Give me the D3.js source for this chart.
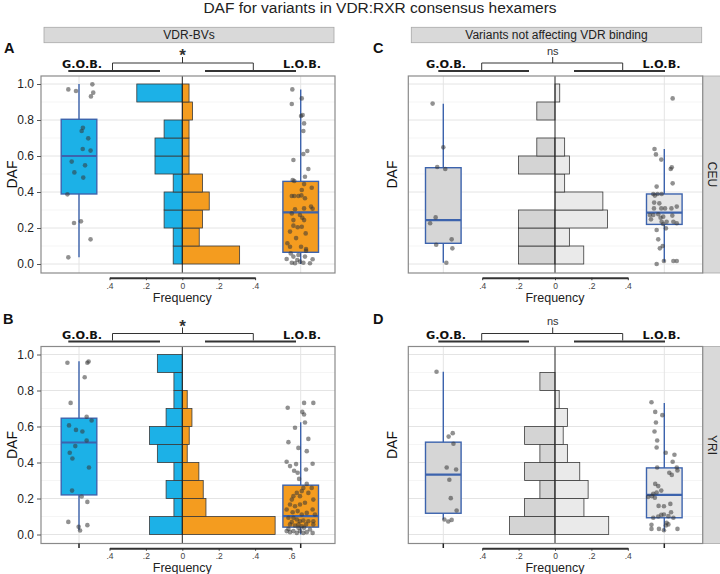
<!DOCTYPE html>
<html><head><meta charset="utf-8">
<script src="https://cdn.jsdelivr.net/npm/d3@7"></script>
<style>body{margin:0;background:#fff}</style>
</head><body><svg id="c" width="720" height="574"></svg>
<script>
// ---------------- DATA ----------------
const title = "DAF for variants in VDR:RXR consensus hexamers";
const stripTop = ["VDR-BVs", "Variants not affecting VDR binding"];
const stripRight = ["CEU", "YRI"];
const panelLetters = ["A", "B", "C", "D"];
const groups = ["G.O.B.", "L.O.B."];
const sigLabels = ["*", "*", "ns", "ns"];
const yTicks = [0.0, 0.2, 0.4, 0.6, 0.8, 1.0];
const yMinor = [0.1, 0.3, 0.5, 0.7, 0.9];
const freqTicksShort = [-0.4, -0.2, 0, 0.2, 0.4];
const freqTicksLong = [-0.4, -0.2, 0, 0.2, 0.4, 0.6];
const binLower = [0.0, 0.1, 0.2, 0.3, 0.4, 0.5, 0.6, 0.7, 0.8, 0.9];
const binWidth = 0.1;

// histogram relative frequencies, bins from 0.0-0.1 upward
const histA_GOB = [0.05, 0.05, 0.10, 0.10, 0.05, 0.15, 0.15, 0.10, 0.00, 0.25];
const histA_LOB = [0.315, 0.093, 0.111, 0.148, 0.111, 0.037, 0.037, 0.037, 0.056, 0.037];
const histB_GOB = [0.18, 0.046, 0.089, 0.046, 0.137, 0.18, 0.089, 0.046, 0.046, 0.137];
const histB_LOB = [0.51, 0.13, 0.115, 0.091, 0.027, 0.038, 0.053, 0.027, 0.0, 0.0];
const histC_GOB = [0.2, 0.2, 0.2, 0.0, 0.0, 0.2, 0.1, 0.0, 0.1, 0.0];
const histC_LOB = [0.158, 0.079, 0.289, 0.263, 0.053, 0.079, 0.053, 0.0, 0.0, 0.026];
const histD_GOB = [0.25, 0.167, 0.083, 0.167, 0.083, 0.167, 0.0, 0.0, 0.083, 0.0];
const histD_LOB = [0.295, 0.159, 0.182, 0.136, 0.068, 0.045, 0.068, 0.023, 0.0, 0.0];

// boxplot stats [lower whisker, Q1, median, Q3, upper whisker]
const boxA_GOB = [0.037, 0.389, 0.60, 0.804, 1.0];
const boxA_LOB = [0.0, 0.065, 0.287, 0.459, 0.97];
const boxB_GOB = [0.024, 0.22, 0.511, 0.646, 0.963];
const boxB_LOB = [0.0, 0.041, 0.102, 0.274, 0.624];
const boxC_GOB = [0.007, 0.115, 0.244, 0.535, 0.89];
const boxC_LOB = [0.013, 0.22, 0.285, 0.389, 0.639];
const boxD_GOB = [0.083, 0.118, 0.333, 0.513, 0.904];
const boxD_LOB = [0.018, 0.093, 0.22, 0.37, 0.73];

// jittered points [DAF, jitter as fraction of half box width]
const ptsA_GOB = [[0.97,-0.60],[0.961,-0.17],[0.998,0.75],[0.952,0.80],[0.931,0.67],[0.757,0.22],[0.739,0.15],[0.698,0.52],[0.639,0.21],[0.63,0.65],[0.569,-0.41],[0.548,0.34],[0.509,-0.26],[0.48,0.24],[0.387,-0.65],[0.228,-0.28],[0.237,0.11],[0.137,0.65],[0.037,-0.60]];
const ptsA_LOB = [[0.97,-0.47],[0.889,-0.50],[0.92,0.06],[0.828,0.11],[0.822,0.02],[0.781,0.19],[0.739,0.15],[0.628,0.37],[0.611,0.15],[0.578,-0.41],[0.528,0.43],[0.485,0.24],[0.467,-0.45],[0.461,-0.36],[0.444,0.19],[0.424,0.62],[0.411,0.06],[0.378,-0.50],[0.378,-0.36],[0.378,-0.13],[0.381,0.04],[0.365,0.24],[0.319,0.58],[0.307,0.67],[0.309,0.19],[0.304,-0.32],[0.281,-0.50],[0.272,-0.04],[0.257,0.09],[0.244,-0.41],[0.244,0.19],[0.207,0.06],[0.204,-0.17],[0.213,-0.41],[0.18,-0.60],[0.17,0.28],[0.144,-0.26],[0.115,-0.75],[0.096,-0.60],[0.096,0.02],[0.083,0.30],[0.059,-0.56],[0.074,0.30],[0.041,0.24],[0.026,0.67],[0.028,-0.79],[0.007,-0.50],[0.004,-0.32],[0.022,-0.19],[0.013,-0.04],[0.007,0.15],[0.004,0.52],[0.041,-0.41],[0.05,-0.13]];
const ptsB_GOB = [[0.954,-0.65],[0.954,0.47],[0.961,0.54],[0.874,0.32],[0.731,-0.47],[0.606,-0.56],[0.581,-0.17],[0.572,0.19],[0.654,0.43],[0.633,0.71],[0.491,-0.21],[0.454,-0.52],[0.422,-0.37],[0.522,0.43],[0.372,0.56],[0.244,-0.39],[0.211,0.15],[0.181,0.47],[0.07,-0.60],[0.043,-0.02],[0.022,0.06],[0.052,0.47]];
const ptsB_LOB = [[0.704,-0.73],[0.731,0.19],[0.731,0.71],[0.681,0.09],[0.667,0.19],[0.593,-0.32],[0.622,0.24],[0.531,0.43],[0.513,-0.69],[0.481,-0.13],[0.463,0.34],[0.404,-0.79],[0.38,-0.60],[0.391,-0.26],[0.354,-0.37],[0.343,-0.17],[0.393,0.67],[0.361,0.30],[0.309,-0.09],[0.281,0.34],[0.259,0.15],[0.241,0.06],[0.231,-0.22],[0.213,-0.41],[0.194,-0.50],[0.213,-0.04],[0.231,0.43],[0.259,0.62],[0.167,-0.60],[0.157,-0.32],[0.167,-0.04],[0.176,0.24],[0.194,0.71],[0.139,-0.79],[0.124,-0.45],[0.13,-0.17],[0.111,0.06],[0.12,0.34],[0.139,0.67],[0.111,0.80],[0.093,-0.69],[0.093,-0.41],[0.083,-0.22],[0.074,-0.04],[0.078,0.15],[0.074,0.43],[0.074,0.71],[0.056,-0.60],[0.05,-0.32],[0.056,-0.13],[0.046,0.06],[0.037,0.19],[0.056,0.30],[0.019,-0.79],[0.013,-0.60],[0.019,-0.41],[0.009,-0.22],[0.019,-0.04],[0.009,0.15],[0.013,0.34],[0.009,0.67],[0.031,-0.69],[0.037,-0.13],[0.069,-0.50],[0.028,0.52],[0.056,0.71]];
const ptsC_GOB = [[0.891,-0.60],[0.648,0.0],[0.539,-0.34],[0.528,0.11],[0.259,-0.43],[0.226,-0.74],[0.137,0.47],[0.107,-0.40],[0.087,0.51],[0.007,0.17]];
const ptsC_LOB = [[0.92,0.47],[0.639,-0.55],[0.609,-0.47],[0.58,-0.17],[0.537,0.42],[0.528,0.36],[0.448,0.47],[0.43,-0.43],[0.389,-0.62],[0.38,-0.53],[0.389,-0.38],[0.389,-0.15],[0.341,-0.57],[0.337,-0.28],[0.309,-0.58],[0.309,-0.17],[0.309,0.04],[0.309,0.40],[0.319,0.70],[0.272,-0.81],[0.272,-0.62],[0.276,-0.34],[0.263,-0.06],[0.269,0.45],[0.257,-0.21],[0.248,-0.75],[0.235,-0.15],[0.235,0.13],[0.235,0.51],[0.222,-0.06],[0.226,0.70],[0.198,0.09],[0.189,-0.43],[0.137,-0.34],[0.10,-0.09],[0.087,-0.25],[0.0,-0.43],[0.017,-0.02],[0.017,0.51],[0.017,0.70]];
const ptsD_GOB = [[0.904,-0.38],[0.544,0.30],[0.563,0.53],[0.504,0.57],[0.372,0.19],[0.361,0.72],[0.304,0.34],[0.202,0.42],[0.133,0.75],[0.083,0.06],[0.072,0.28],[0.081,0.47]];
const ptsD_LOB = [[0.735,-0.72],[0.681,-0.51],[0.663,-0.11],[0.622,-0.47],[0.572,-0.55],[0.522,-0.40],[0.483,-0.43],[0.454,0.08],[0.443,0.57],[0.404,0.47],[0.372,-0.40],[0.372,0.70],[0.356,0.74],[0.343,0.28],[0.331,0.42],[0.281,-0.51],[0.269,-0.34],[0.244,-0.17],[0.233,-0.43],[0.226,-0.62],[0.213,-0.70],[0.204,-0.53],[0.159,-0.32],[0.157,-0.02],[0.17,0.34],[0.124,0.38],[0.109,-0.17],[0.111,-0.02],[0.102,0.23],[0.093,-0.62],[0.10,-0.34],[0.093,0.51],[0.065,0.13],[0.056,0.23],[0.05,0.09],[0.054,-0.72],[0.031,-0.72],[0.031,-0.30],[0.024,-0.02],[0.031,0.74],[0.209,-0.91]];

// ---------------- DRAWING ----------------
const SANS = '"Liberation Sans", Arial, Helvetica, sans-serif';
const svg = d3.select("#c");

svg.append("text").attr("x", 380).attr("y", 13).attr("text-anchor", "middle")
  .attr("font-family", SANS).attr("font-size", 15.5).attr("fill", "#222").text(title);

const colorPal = {gobHist: "#1CB1E7", lobHist: "#F49C1F", gobBox: "#1CB1E7", lobBox: "#F49C1F"};
const greyPal  = {gobHist: "#D4D4D4", lobHist: "#EAEAEA", gobBox: "#D6D6D6", lobBox: "#E6E6E6"};

const panels = [
  {letter: panelLetters[0], top: 76, x0: 41, x1: 335, cx: 182.3, gob: 79, lob: 300.7, pal: colorPal, yLabels: true, xTicks: false,
   freq: freqTicksShort, hist: [histA_GOB, histA_LOB], box: [boxA_GOB, boxA_LOB], pts: [ptsA_GOB, ptsA_LOB], sig: sigLabels[0], strip: stripTop[0], rstrip: null,
   br: {l: 112.5, r: 253.3, mid: 182.5, tl: [68.3, 160], tr: [205, 296], gx: 62, lx: 283}, lx: 4, dafX: 12},
  {letter: panelLetters[1], top: 346.5, x0: 41, x1: 335, cx: 182.3, gob: 79, lob: 300.7, pal: colorPal, yLabels: true, xTicks: true,
   freq: freqTicksLong, hist: [histB_GOB, histB_LOB], box: [boxB_GOB, boxB_LOB], pts: [ptsB_GOB, ptsB_LOB], sig: sigLabels[1], strip: null, rstrip: null,
   br: {l: 112.5, r: 253.3, mid: 182.5, tl: [68.3, 160], tr: [205, 296], gx: 62, lx: 283}, lx: 3, dafX: 12},
  {letter: panelLetters[2], top: 76, x0: 408.3, x1: 702.7, cx: 555, gob: 443.3, lob: 664.3, pal: greyPal, yLabels: false, xTicks: false,
   freq: freqTicksShort, hist: [histC_GOB, histC_LOB], box: [boxC_GOB, boxC_LOB], pts: [ptsC_GOB, ptsC_LOB], sig: sigLabels[2], strip: stripTop[1], rstrip: stripRight[0],
   br: {l: 481.7, r: 622.7, mid: 552.7, tl: [438.3, 529], tr: [574, 665], gx: 426, lx: 642.5}, lx: 373, dafX: 391.7},
  {letter: panelLetters[3], top: 346.5, x0: 408.3, x1: 702.7, cx: 555, gob: 443.3, lob: 664.3, pal: greyPal, yLabels: false, xTicks: true,
   freq: freqTicksShort, hist: [histD_GOB, histD_LOB], box: [boxD_GOB, boxD_LOB], pts: [ptsD_GOB, ptsD_LOB], sig: sigLabels[3], strip: null, rstrip: stripRight[1],
   br: {l: 481.7, r: 622.7, mid: 552.7, tl: [438.3, 529], tr: [574, 665], gx: 426, lx: 642.5}, lx: 373, dafX: 391.7}
];

const PH = 197, HALF = 17.8, BOXBLUE = "#3C63AD";

panels.forEach(p => {
  const g = svg.append("g");
  const y0 = p.top, y1 = p.top + PH;
  const y = d3.scaleLinear().domain([0, 1]).range([y0 + 188, y0 + 8]);
  const fx = d3.scaleLinear().domain([0, 1]).range([p.cx, p.cx + 182]);
  const xc = d3.scaleOrdinal().domain(groups).range([p.gob, p.lob]);

  // top strip
  if (p.strip) {
    const sx0 = p.x0 + 3, sx1 = p.x1 - 1;
    g.append("rect").attr("x", sx0).attr("y", 27.3).attr("width", sx1 - sx0).attr("height", 15.4)
      .attr("fill", "#D9D9D9").attr("stroke", "#A8A8A8").attr("stroke-width", 0.8);
    g.append("text").attr("x", (sx0 + sx1) / 2).attr("y", 39.3).attr("text-anchor", "middle")
      .attr("font-family", SANS).attr("font-size", 12).attr("fill", "#222").text(p.strip);
  }
  // right strip
  if (p.rstrip) {
    g.append("rect").attr("x", p.x1).attr("y", y0).attr("width", 720 - p.x1 + 2).attr("height", PH)
      .attr("fill", "#D9D9D9").attr("stroke", "#A8A8A8").attr("stroke-width", 0.8);
    g.append("text").attr("transform", `translate(${p.x1 + 9},${(y0 + y1) / 2}) rotate(90)`)
      .attr("text-anchor", "middle").attr("dominant-baseline", "central")
      .attr("font-family", SANS).attr("font-size", 12).attr("fill", "#222").text(p.rstrip);
  }

  // panel letter
  g.append("text").attr("x", p.lx).attr("y", y0 - 23).attr("font-family", SANS).attr("font-weight", "bold")
    .attr("font-size", 14.5).attr("fill", "#111").text(p.letter);

  // significance bracket
  const b = p.br, bk = g.append("g").attr("stroke", "#333").attr("fill", "none");
  bk.append("path").attr("stroke-width", 1)
    .attr("d", `M${b.l},${y0 - 6}V${y0 - 13}H${b.r}V${y0 - 6}M${b.mid},${y0 - 13}V${y0 - 19}`);
  bk.append("line").attr("stroke-width", 2.2).attr("x1", b.tl[0]).attr("x2", b.tl[1]).attr("y1", y0 - 5).attr("y2", y0 - 5);
  bk.append("line").attr("stroke-width", 2.2).attr("x1", b.tr[0]).attr("x2", b.tr[1]).attr("y1", y0 - 5).attr("y2", y0 - 5);
  const star = p.sig === "*";
  g.append("text").attr("x", b.mid).attr("y", star ? y0 - 15 : y0 - 21.5).attr("text-anchor", "middle")
    .attr("font-family", SANS).attr("font-weight", star ? "bold" : "normal").attr("font-size", star ? 17 : 11)
    .attr("fill", "#333").text(p.sig);
  g.append("text").attr("x", b.gx).attr("y", y0 - 8).attr("font-family", '"DejaVu Sans", sans-serif')
    .attr("font-weight", "bold").attr("font-size", 11.3).attr("fill", "#111").text(groups[0]);
  g.append("text").attr("x", b.lx).attr("y", y0 - 8).attr("font-family", '"DejaVu Sans", sans-serif')
    .attr("font-weight", "bold").attr("font-size", 11.3).attr("fill", "#111").text(groups[1]);

  // panel background & grid
  g.append("rect").attr("x", p.x0).attr("y", y0).attr("width", p.x1 - p.x0).attr("height", PH).attr("fill", "#fff");
  g.selectAll(".gmin").data(yMinor).join("line").attr("x1", p.x0).attr("x2", p.x1)
    .attr("y1", d => y(d)).attr("y2", d => y(d)).attr("stroke", "#F3F3F3").attr("stroke-width", 0.8);
  g.selectAll(".gmaj").data(yTicks).join("line").attr("x1", p.x0).attr("x2", p.x1)
    .attr("y1", d => y(d)).attr("y2", d => y(d)).attr("stroke", "#E4E4E4").attr("stroke-width", 1);
  g.selectAll(".gv").data(groups).join("line").attr("x1", d => xc(d)).attr("x2", d => xc(d))
    .attr("y1", y0).attr("y2", y1).attr("stroke", "#E4E4E4").attr("stroke-width", 1);

  // histogram (back-to-back)
  const hg = g.append("g").attr("stroke", "#3A3A3A").attr("stroke-width", 0.8);
  hg.selectAll(".hl").data(binLower.map((lo, i) => ({lo, f: p.hist[0][i]})).filter(d => d.f > 0)).join("rect")
    .attr("x", d => fx(-d.f)).attr("width", d => fx(0) - fx(-d.f))
    .attr("y", d => y(d.lo + binWidth)).attr("height", d => y(d.lo) - y(d.lo + binWidth))
    .attr("fill", p.pal.gobHist);
  hg.selectAll(".hr").data(binLower.map((lo, i) => ({lo, f: p.hist[1][i]})).filter(d => d.f > 0)).join("rect")
    .attr("x", fx(0)).attr("width", d => fx(d.f) - fx(0))
    .attr("y", d => y(d.lo + binWidth)).attr("height", d => y(d.lo) - y(d.lo + binWidth))
    .attr("fill", p.pal.lobHist);
  g.append("line").attr("x1", fx(0)).attr("x2", fx(0)).attr("y1", y0).attr("y2", y1)
    .attr("stroke", "#222").attr("stroke-width", 1);

  // boxplots
  groups.forEach((grp, gi) => {
    const s = p.box[gi], x = xc(grp);
    const bx = g.append("g");
    bx.append("line").attr("x1", x).attr("x2", x).attr("y1", y(s[0])).attr("y2", y(s[4]))
      .attr("stroke", BOXBLUE).attr("stroke-width", 1.4);
    bx.append("rect").attr("x", x - HALF).attr("width", 2 * HALF).attr("y", y(s[3])).attr("height", y(s[1]) - y(s[3]))
      .attr("fill", gi === 0 ? p.pal.gobBox : p.pal.lobBox).attr("stroke", BOXBLUE).attr("stroke-width", 1.4);
    bx.append("line").attr("x1", x - HALF).attr("x2", x + HALF).attr("y1", y(s[2])).attr("y2", y(s[2]))
      .attr("stroke", BOXBLUE).attr("stroke-width", 2.2);
    // jittered points
    g.append("g").selectAll("circle").data(p.pts[gi]).join("circle")
      .attr("cx", d => x + d[1] * HALF).attr("cy", d => y(d[0])).attr("r", 2.3)
      .attr("fill", "rgba(55,55,55,0.55)");
  });

  // panel border
  g.append("rect").attr("x", p.x0).attr("y", y0).attr("width", p.x1 - p.x0).attr("height", PH)
    .attr("fill", "none").attr("stroke", "#8A8A8A").attr("stroke-width", 1.2);

  // y axis
  if (p.yLabels) {
    const ya = g.append("g").attr("transform", `translate(${p.x0},0)`)
      .call(d3.axisLeft(y).tickValues(yTicks).tickFormat(d3.format(".1f")).tickSize(4).tickPadding(3));
    ya.select(".domain").remove();
    ya.selectAll("line").attr("stroke", "#555");
    ya.selectAll("text").attr("font-family", SANS).attr("font-size", 12).attr("fill", "#222");
  }
  g.append("text").attr("transform", `translate(${p.dafX},${(y0 + y1) / 2}) rotate(-90)`)
    .attr("text-anchor", "middle").attr("dominant-baseline", "central")
    .attr("font-family", SANS).attr("font-size", 14).attr("fill", "#111").text("DAF");

  // x ticks at group positions
  if (p.xTicks) {
    g.selectAll(".xt").data(groups).join("line").attr("x1", d => xc(d)).attr("x2", d => xc(d))
      .attr("y1", y1).attr("y2", y1 + 4.5).attr("stroke", "#222").attr("stroke-width", 1.5);
  }

  // frequency axis
  const fa = d3.scaleLinear().domain(d3.extent(p.freq)).range(d3.extent(p.freq).map(fx));
  const fax = g.append("g").attr("transform", `translate(0,${y0 + 201.7})`)
    .call(d3.axisBottom(fa).tickValues(p.freq).tickSize(2.5).tickSizeOuter(0).tickPadding(2.5)
      .tickFormat(v => v === 0 ? "0" : d3.format(".1f")(Math.abs(v)).replace(/^0/, "")));
  fax.select(".domain").attr("stroke", "#333").attr("stroke-width", 2);
  fax.selectAll(".tick line").attr("stroke", "#333");
  fax.selectAll("text").attr("font-family", SANS).attr("font-size", 8.5).attr("fill", "#444");
  g.append("text").attr("x", p.cx).attr("y", y0 + 225.5).attr("text-anchor", "middle")
    .attr("font-family", SANS).attr("font-size", 12.5).attr("fill", "#222").text("Frequency");
});
</script></body></html>
